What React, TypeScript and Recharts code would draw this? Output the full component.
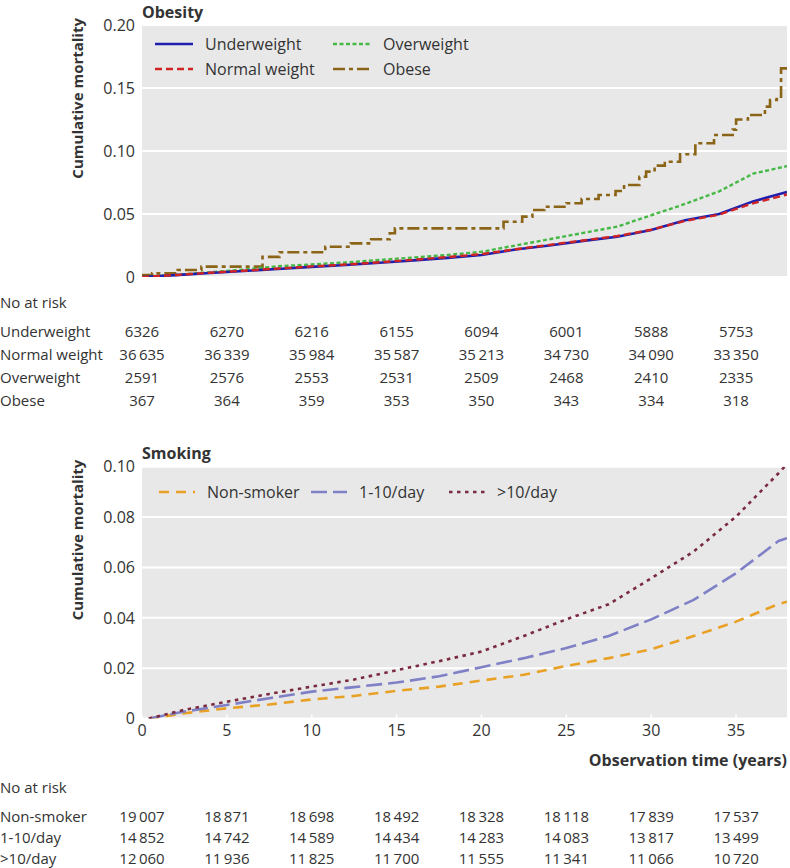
import React from "react";
import { LineChart, Line, XAxis, YAxis, CartesianGrid, Legend } from "recharts";

const FONT = '"Open Sans", "Noto Sans", sans-serif';
const TEXT = "#333333";
const PANEL = "#e8e8e8";

// x axis (years) and y axis ticks
const YEAR_TICKS = [0, 5, 10, 15, 20, 25, 30, 35];
const OBESITY_Y_TICKS = [0, 0.05, 0.1, 0.15, 0.2];
const SMOKING_Y_TICKS = [0, 0.02, 0.04, 0.06, 0.08, 0.1];

// obesity panel, every 2 years
const BMI_TIMES = [0, 2, 4, 6, 8, 10, 12, 14, 16, 18, 20, 22, 24, 26, 28, 30, 32, 34, 36, 38];
const underweight = [0, 0.0015, 0.0032, 0.0048, 0.0064, 0.008, 0.0095, 0.0113, 0.0132, 0.0152, 0.0175, 0.0218, 0.025, 0.0287, 0.032, 0.0373, 0.045, 0.05, 0.06, 0.0675];
const normalWeight = [0, 0.0016, 0.0034, 0.005, 0.0067, 0.0084, 0.0099, 0.0117, 0.0137, 0.0158, 0.0182, 0.022, 0.0255, 0.029, 0.0325, 0.0375, 0.0445, 0.0495, 0.0585, 0.0655];
const overweight = [0, 0.0017, 0.0037, 0.0058, 0.0085, 0.01, 0.0115, 0.0135, 0.0155, 0.0175, 0.02, 0.025, 0.03, 0.035, 0.04, 0.049, 0.058, 0.068, 0.082, 0.088];

// obese curve is a step function
const OBESE_TIMES = [0, 0.6, 2.1, 3.5, 7.1, 8.1, 10.8, 12.3, 13.5, 14.6, 14.9, 21.3, 22.4, 23.0, 23.7, 25.0, 25.9, 26.9, 27.9, 28.4, 29.3, 29.7, 30.2, 30.8, 31.7, 32.6, 33.7, 34.8, 35.0, 35.7, 36.7, 37.0, 37.4, 37.65, 38];
const obese = [0.0016, 0.0029, 0.0056, 0.0082, 0.016, 0.0196, 0.024, 0.0267, 0.03, 0.0347, 0.0386, 0.0439, 0.0479, 0.0532, 0.0558, 0.0585, 0.0619, 0.0651, 0.0683, 0.073, 0.0796, 0.0836, 0.0884, 0.0915, 0.0974, 0.1061, 0.1127, 0.117, 0.125, 0.1286, 0.1352, 0.1405, 0.1431, 0.1656, 0.1656];

// smoking panel
const SMOKING_TIMES = [0.4, 2.5, 5, 7.5, 10, 12.5, 15, 17.5, 20, 22.5, 25, 27.5, 30, 32.5, 35, 37.5, 38];
const nonSmoker = [0, 0.0021, 0.0041, 0.0056, 0.0076, 0.009, 0.011, 0.0127, 0.0151, 0.0174, 0.0209, 0.024, 0.0275, 0.0328, 0.0385, 0.0455, 0.0464];
const light = [0, 0.0028, 0.0054, 0.0081, 0.0107, 0.0125, 0.0143, 0.0168, 0.0204, 0.024, 0.028, 0.0328, 0.0394, 0.0471, 0.0577, 0.0705, 0.0716];
const heavy = [0, 0.0035, 0.0067, 0.0098, 0.0127, 0.0155, 0.0192, 0.0228, 0.0266, 0.0328, 0.0394, 0.0454, 0.0557, 0.0663, 0.0802, 0.0974, 0.101];

// numbers at risk
const OBESITY_GROUPS = ["Underweight", "Normal weight", "Overweight", "Obese"];
const underweightAtRisk = [6326, 6270, 6216, 6155, 6094, 6001, 5888, 5753];
const normalAtRisk = [36635, 36339, 35984, 35587, 35213, 34730, 34090, 33350];
const overweightAtRisk = [2591, 2576, 2553, 2531, 2509, 2468, 2410, 2335];
const obeseAtRisk = [367, 364, 359, 353, 350, 343, 334, 318];

const SMOKING_GROUPS = ["Non-smoker", "1-10/day", ">10/day"];
const nonSmokerAtRisk = [19007, 18871, 18698, 18492, 18328, 18118, 17839, 17537];
const lightAtRisk = [14852, 14742, 14589, 14434, 14283, 14083, 13817, 13499];
const heavyAtRisk = [12060, 11936, 11825, 11700, 11555, 11341, 11066, 10720];

const toPoints = (times: number[], values: number[]) => times.map((t, i) => ({ t, v: values[i] }));

// chart-level table: one row per tick year with the numbers at risk
const buildRiskTable = (groups: string[], counts: number[][]) =>
  YEAR_TICKS.map((t, k) => {
    const row: Record<string, number> = { t };
    groups.forEach((g, i) => (row[g] = counts[i][k]));
    return row;
  });

const fmtCount = (n: number) =>
  n >= 10000 ? String(n).replace(/\B(?=(\d{3})+(?!\d))/g, "\u2009") : String(n);
const fmtY = (v: number) => (v === 0 ? "0" : v.toFixed(2));

type Series = {
  name: string;
  color: string;
  dash?: string;
  width: number;
  step?: boolean;
  points: { t: number; v: number }[];
};

const obesitySeries: Series[] = [
  { name: "Underweight", color: "#1f1fae", width: 2.6, points: toPoints(BMI_TIMES, underweight) },
  { name: "Normal weight", color: "#d02424", dash: "7 4", width: 2.4, points: toPoints(BMI_TIMES, normalWeight) },
  { name: "Overweight", color: "#45b845", dash: "4 2.5", width: 2.4, points: toPoints(BMI_TIMES, overweight) },
  { name: "Obese", color: "#8a6417", dash: "12 4 4 4", width: 2.6, step: true, points: toPoints(OBESE_TIMES, obese) },
];

const smokingSeries: Series[] = [
  { name: "Non-smoker", color: "#e8a125", dash: "10 7", width: 2.6, points: toPoints(SMOKING_TIMES, nonSmoker) },
  { name: "1-10/day", color: "#7f80c6", dash: "16 6", width: 2.6, points: toPoints(SMOKING_TIMES, light) },
  { name: ">10/day", color: "#7b2b3f", dash: "3.5 4.5", width: 2.6, points: toPoints(SMOKING_TIMES, heavy) },
];

const obesityRisk = buildRiskTable(OBESITY_GROUPS, [underweightAtRisk, normalAtRisk, overweightAtRisk, obeseAtRisk]);
const smokingRisk = buildRiskTable(SMOKING_GROUPS, [nonSmokerAtRisk, lightAtRisk, heavyAtRisk]);

const RowLabel = (props: any) => {
  const { viewBox, text, baseline, bold, anchorEnd } = props;
  if (!viewBox) return null;
  return (
    <text
      x={anchorEnd ? viewBox.x + viewBox.width : 0}
      y={viewBox.y + baseline}
      fill={TEXT}
      fontSize={bold ? 16 : 15}
      fontWeight={bold ? 700 : 400}
      textAnchor={anchorEnd ? "end" : "start"}
    >
      {text}
    </text>
  );
};

const YTitle = (props: any) => {
  const { viewBox, text } = props;
  if (!viewBox) return null;
  const cx = viewBox.x + 77;
  const cy = viewBox.y - 7;
  return (
    <text
      x={cx}
      y={cy}
      transform={`rotate(-90, ${cx}, ${cy})`}
      textAnchor="end"
      dominantBaseline="central"
      fill={TEXT}
      fontSize={15}
      fontWeight={700}
    >
      {text}
    </text>
  );
};

const Sample = ({ s, w }: { s: Series; w: number }) => (
  <svg width={w} height={10} style={{ display: "block" }}>
    <line x1={0} y1={5} x2={w} y2={5} stroke={s.color} strokeWidth={s.width} strokeDasharray={s.dash} />
  </svg>
);

const LegendBox = ({ series, columns, rows, sampleWidth }: { series: Series[]; columns: string; rows: number; sampleWidth: number }) => (
  <div
    style={{
      display: "grid",
      gridTemplateColumns: columns,
      gridTemplateRows: `repeat(${rows}, 25px)`,
      gridAutoFlow: "column",
      fontFamily: FONT,
      fontSize: 16,
      color: TEXT,
    }}
  >
    {series.map((s) => (
      <div key={s.name} style={{ display: "flex", alignItems: "center", whiteSpace: "nowrap" }}>
        <Sample s={s} w={sampleWidth} />
        <span style={{ marginLeft: 12 }}>{s.name}</span>
      </div>
    ))}
  </div>
);

const renderLines = (series: Series[]) =>
  series.map((s) => (
    <Line
      key={s.name}
      data={s.points}
      dataKey="v"
      name={s.name}
      type={s.step ? "stepAfter" : "linear"}
      stroke={s.color}
      strokeWidth={s.width}
      strokeDasharray={s.dash}
      dot={false}
      activeDot={false}
      isAnimationActive={false}
    />
  ));

// one bottom axis per risk row; ids sort after the header axis
const riskAxes = (prefix: string, groups: string[], table: Record<string, number>[], rowHeight: number, margin: number) =>
  groups.map((g, i) => (
    <XAxis
      key={g}
      xAxisId={`${prefix}-${i + 1}`}
      dataKey="t"
      type="number"
      domain={[0, 38]}
      allowDataOverflow
      ticks={YEAR_TICKS}
      interval={0}
      height={rowHeight}
      axisLine={false}
      tickLine={false}
      tickSize={0}
      tickMargin={margin}
      tick={{ fill: TEXT, fontSize: 15 }}
      tickFormatter={(t: number) => {
        const row = table.find((r) => r.t === t);
        return row ? fmtCount(row[g]) : "";
      }}
      label={<RowLabel text={g} baseline={margin + 10.65} />}
    />
  ));

const ObesityChart = () => (
  <LineChart width={790} height={420} data={obesityRisk} margin={{ top: 25, right: 3, bottom: 12.2, left: 0 }}>
    <CartesianGrid vertical={false} stroke="#ffffff" strokeWidth={2} fill={PANEL} />
    <YAxis
      type="number"
      domain={[0, 0.2]}
      allowDataOverflow
      ticks={OBESITY_Y_TICKS}
      width={142}
      axisLine={false}
      tickLine={false}
      tickSize={0}
      tickMargin={7}
      tickFormatter={fmtY}
      tick={{ fill: TEXT, fontSize: 16 }}
      label={<YTitle text="Cumulative mortality" />}
    />
    <XAxis
      type="number"
      dataKey="t"
      domain={[0, 38]}
      allowDataOverflow
      ticks={YEAR_TICKS}
      interval={0}
      height={12}
      axisLine={false}
      tick={false}
      tickSize={-4}
      tickLine={{ stroke: "#ffffff", strokeWidth: 1.5 }}
    />
    <XAxis
      xAxisId="ob-0"
      dataKey="t"
      type="number"
      domain={[0, 38]}
      allowDataOverflow
      height={28}
      axisLine={false}
      tickLine={false}
      tick={false}
      label={<RowLabel text="No at risk" baseline={19.4} />}
    />
    {riskAxes("ob", OBESITY_GROUPS, obesityRisk, 22.7, 9.75)}
    <Legend
      layout="vertical"
      align="center"
      verticalAlign="middle"
      wrapperStyle={{ top: 31, left: 155, width: 340 }}
      content={() => <LegendBox series={obesitySeries} columns="178px auto" rows={2} sampleWidth={38} />}
    />
    {renderLines([obesitySeries[3], obesitySeries[2], obesitySeries[0], obesitySeries[1]])}
  </LineChart>
);

const SmokingChart = () => (
  <LineChart width={790} height={448} data={smokingRisk} margin={{ top: 46.7, right: 3, bottom: 3.5, left: 0 }}>
    <CartesianGrid vertical={false} stroke="#ffffff" strokeWidth={2} fill={PANEL} />
    <YAxis
      type="number"
      domain={[0, 0.1]}
      allowDataOverflow
      ticks={SMOKING_Y_TICKS}
      width={142}
      axisLine={false}
      tickLine={false}
      tickSize={0}
      tickMargin={7}
      tickFormatter={fmtY}
      tick={{ fill: TEXT, fontSize: 16 }}
      label={<YTitle text="Cumulative mortality" />}
    />
    <XAxis
      type="number"
      dataKey="t"
      domain={[0, 38]}
      allowDataOverflow
      ticks={YEAR_TICKS}
      interval={0}
      height={54}
      axisLine={false}
      tickSize={-4}
      tickMargin={10}
      tickLine={{ stroke: "#ffffff", strokeWidth: 1.5 }}
      tick={{ fill: TEXT, fontSize: 16 }}
      label={<RowLabel text="Observation time (years)" baseline={47.1} bold anchorEnd />}
    />
    <XAxis
      xAxisId="sm-0"
      dataKey="t"
      type="number"
      domain={[0, 38]}
      allowDataOverflow
      height={28}
      axisLine={false}
      tickLine={false}
      tick={false}
      label={<RowLabel text="No at risk" baseline={20.7} />}
    />
    {riskAxes("sm", SMOKING_GROUPS, smokingRisk, 21.3, 10.5)}
    <Legend
      layout="vertical"
      align="center"
      verticalAlign="middle"
      wrapperStyle={{ top: 59, left: 159, width: 420 }}
      content={() => <LegendBox series={smokingSeries} columns="152px 138px auto" rows={1} sampleWidth={36} />}
    />
    {renderLines(smokingSeries)}
  </LineChart>
);

const titleStyle: React.CSSProperties = {
  position: "absolute",
  left: 142,
  fontSize: 16,
  fontWeight: 700,
  lineHeight: "20px",
  color: TEXT,
};

export default function App() {
  return (
    <div style={{ position: "absolute", left: 0, top: 0, width: 790, height: 868, background: "#ffffff", fontFamily: FONT }}>
      <div style={{ position: "absolute", left: 0, top: 0 }}>
        <ObesityChart />
      </div>
      <div style={{ position: "absolute", left: 0, top: 420 }}>
        <SmokingChart />
      </div>
      <div style={{ ...titleStyle, top: 1.5 }}>Obesity</div>
      <div style={{ ...titleStyle, top: 442.5 }}>Smoking</div>
    </div>
  );
}
